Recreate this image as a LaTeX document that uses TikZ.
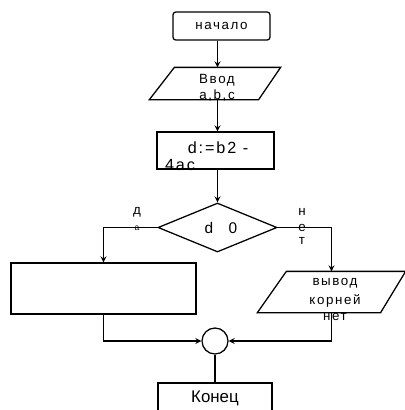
\documentclass[tikz,border=0pt]{standalone}
\usepackage{fontspec}
\setmainfont{Liberation Sans}
\newfontfamily\spfont{Liberation Sans}[LetterSpace=12]
\usepackage{tikz}
\usetikzlibrary{shapes.geometric}
\usetikzlibrary{positioning}

\begin{document}
\begin{tikzpicture}[x=0.025cm,y=-0.025cm,line width=0.9pt,>=stealth,
		blk/.style={draw,rectangle,inner sep=0pt},
		io/.style={rectangle,inner sep=0pt},
		txt/.style={inner sep=0pt,font=\spfont\fontsize{9.5}{11}\selectfont}]
		\def\u{0.025cm}
		\useasboundingbox (0,0) rectangle (405,410);
%		blocks
		\node[blk,rounded corners=2pt,minimum width=97*\u,minimum height=28*\u] (start) at (221.5,26) {};
		\node[io,minimum width=130*\u,minimum height=31*\u] (inp) at (215,83.5) {};
		\draw ([xshift=25*\u]inp.north west) -- (inp.north east) -- ([xshift=-22*\u]inp.south east) -- (inp.south west) -- cycle;
		\node[blk,minimum width=117*\u,minimum height=37*\u] (calc) at (215.5,150.5) {};
		\node[draw,diamond,inner sep=0pt,minimum width=119*\u,minimum height=49*\u] (dec) at (217.5,227.5) {};
		\node[blk,minimum width=185*\u,minimum height=51*\u] (yes) at (103.5,288.5) {};
		\node[io,minimum width=147*\u,minimum height=40*\u] (no) at (331.5,292) {};
		\draw ([xshift=29*\u]no.north west) -- (no.north east) -- ([xshift=-25*\u]no.south east) -- (no.south west) -- cycle;
		\node[draw,circle,inner sep=0pt,minimum size=26*\u] (merge) at (215,341) {};
		\node[blk,minimum width=114*\u,minimum height=40*\u] (fin) at (215,403) {};
%		texts
		\node[txt] (tstart) at (start) {начало};
		\node[txt] (tinp1) at (217,80) {Ввод};
		\node[txt] (tinp2) at (217,96) {a,b,c};
		\node[txt,font=\spfont\fontsize{11.5}{14}\selectfont] (tcalc1) at (218,148) {d:=b2 -};
		\node[txt,font=\spfont\fontsize{11.5}{14}\selectfont] (tcalc2) at (180,165) {4ac};
		\node[txt,font=\fontsize{11}{13}\selectfont] (tdec) at (221,228) {d\quad 0};
		\node[txt] (tno1) at (335,283) {вывод};
		\node[txt] (tno2) at (335,301) {корней};
		\node[txt] (tno3) at (335,317) {нет};
		\node[txt,font=\fontsize{12}{14}\selectfont] (tfin) at (215,398) {Конец};
		\node[txt] (lyes1) at (137,212) {д};
		\node[txt,font=\fontsize{6}{7}\selectfont] (lyes2) at (137,228) {а};
		\node[txt] (lno1) at (302,212) {н};
		\node[txt] (lno2) at (302,228) {е};
		\node[txt] (lno3) at (302,241) {т};
%		connectors
		\draw[->] (start.south -| dec.north) -- (inp.north -| dec.north);
		\draw[->] (inp.south -| dec.north) -- (calc.north -| dec.north);
		\draw[->] (calc.south -| dec.north) -- (dec.north);
		\draw[->] (dec.west) -| (yes.north);
		\draw[->] (dec.east) -| (no.north);
		\draw[->] (yes.south) |- (merge.west);
		\draw[->] (no.south) |- (merge.east);
		\draw (merge.south) -- (fin.north);
\end{tikzpicture}
\end{document}
